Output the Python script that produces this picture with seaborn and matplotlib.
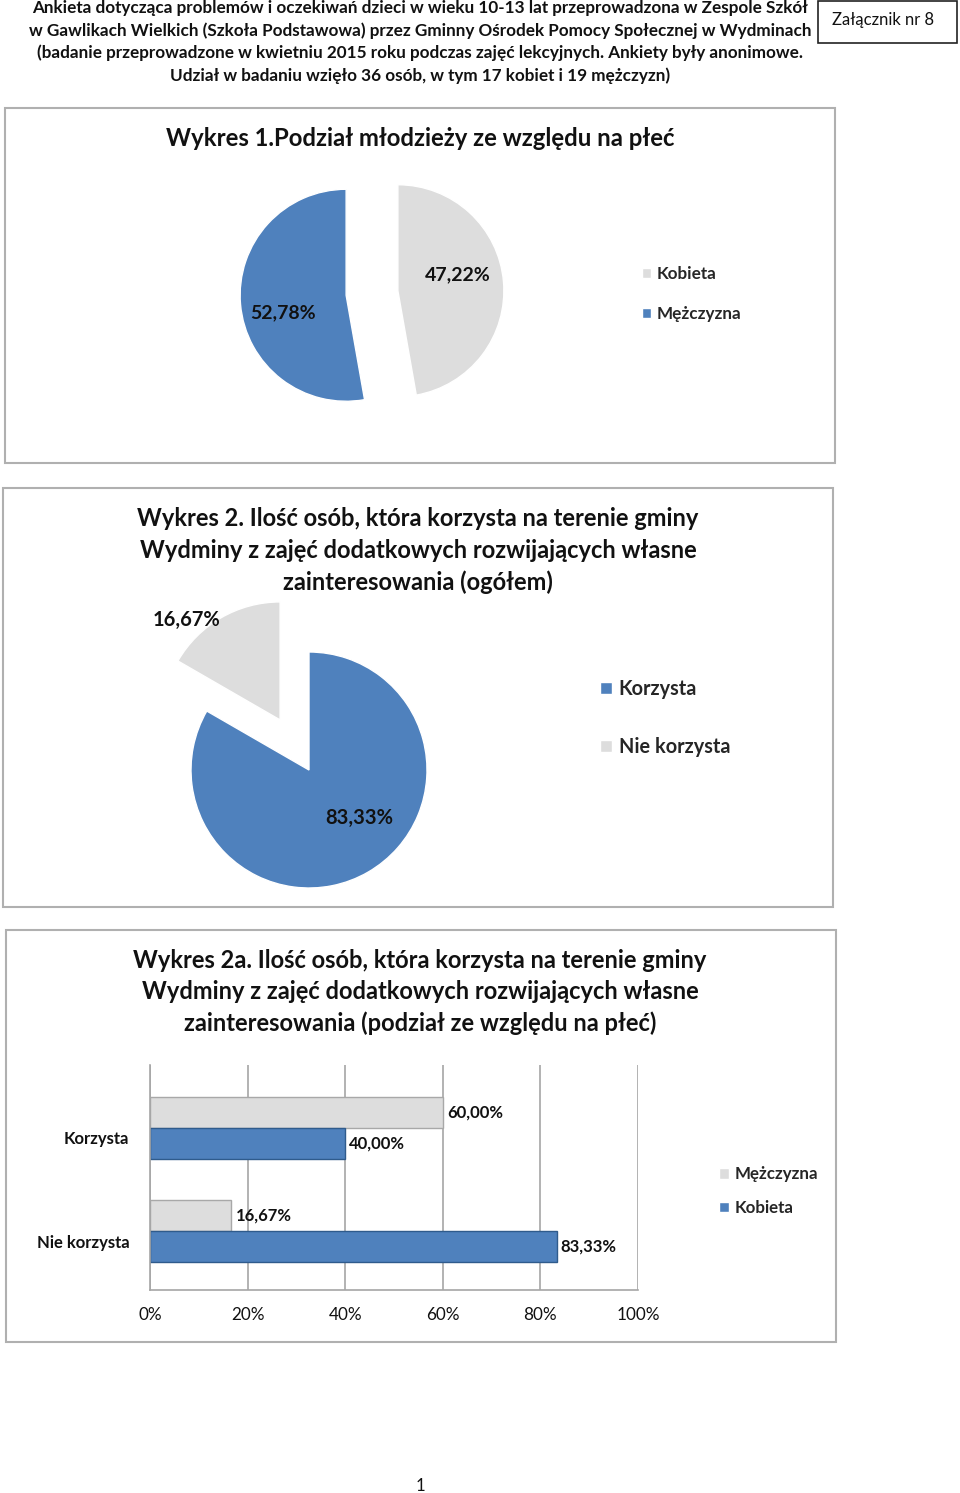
import numpy as np
import pandas as pd
import matplotlib
matplotlib.use("Agg")
import matplotlib.pyplot as plt
from matplotlib.patches import Rectangle, Patch
from matplotlib.transforms import ScaledTranslation
import seaborn as sns

# ---------------- data ----------------
header_lines = [
    "Ankieta dotycząca problemów i oczekiwań dzieci w wieku 10-13 lat przeprowadzona w Zespole Szkół",
    "w Gawlikach Wielkich (Szkoła Podstawowa) przez Gminny Ośrodek Pomocy Społecznej w Wydminach",
    "(badanie przeprowadzone w kwietniu 2015 roku podczas zajęć lekcyjnych. Ankiety były anonimowe.",
    "Udział w badaniu wzięło 36 osób, w tym 17 kobiet i 19 mężczyzn)",
]
annex_label = "Załącznik nr 8"
title1 = "Wykres 1.Podział młodzieży ze względu na płeć"
title2_lines = [
    "Wykres 2. Ilość osób, która korzysta na terenie gminy",
    "Wydminy z zajęć dodatkowych rozwijających własne",
    "zainteresowania (ogółem)",
]
title3_lines = [
    "Wykres 2a. Ilość osób, która korzysta na terenie gminy",
    "Wydminy z zajęć dodatkowych rozwijających własne",
    "zainteresowania (podział ze względu na płeć)",
]
pie1_labels = ["Kobieta", "Mężczyzna"]
pie1_values = [47.22, 52.78]
pie2_labels = ["Korzysta", "Nie korzysta"]
pie2_values = [83.33, 16.67]
bar_categories = ["Korzysta", "Nie korzysta"]
bar_series = ["Mężczyzna", "Kobieta"]
bar_mezczyzna = [60.00, 16.67]
bar_kobieta = [40.00, 83.33]
x_ticks = [0, 20, 40, 60, 80, 100]
page_number = "1"

BLUE = "#4F81BD"
GRAY = "#DDDDDD"
TXT = "#111111"

sns.set_theme(style="white")
plt.rcParams['font.family'] = ['Lato', 'DejaVu Sans']

W, H = 960, 1493
fig = plt.figure(figsize=(9.6, 14.93), dpi=100)
fig.patch.set_facecolor("white")


def fx(x):
    return x / W


def fy(y):
    return 1 - y / H


def add_axes_px(x0, y0, x1, y1):
    return fig.add_axes([fx(x0), fy(y1), (x1 - x0) / W, (y1 - y0) / H])


def pct(v):
    return f"{v:.2f}%".replace(".", ",")


def box(x0, y0, x1, y1, ec="#B0B0B0", lw=1.5):
    fig.add_artist(Rectangle((fx(x0), fy(y1)), (x1 - x0) / W, (y1 - y0) / H,
                             transform=fig.transFigure, fill=False, ec=ec, lw=lw))


# ---------------- header ----------------
for i, line in enumerate(header_lines):
    fig.text(fx(420), fy(8 + i * 22.5), line, ha="center", va="center",
             fontsize=12.3, fontweight="bold", color=TXT)
box(818, 1, 957, 43, ec="#222222", lw=1.2)
fig.text(fx(883), fy(20), annex_label, ha="center", va="center", fontsize=12, color=TXT)

# ---------------- boxes ----------------
box(5, 108, 835, 463)
box(3, 488, 833, 907)
box(6, 930, 836, 1342)

# ---------------- chart 1 ----------------
fig.text(fx(420), fy(138), title1, ha="center", va="center", fontsize=17.2,
         fontweight="bold", color=TXT)
r1 = 106
ax1 = add_axes_px(372 - 1.4 * r1, 293 - 1.4 * r1, 372 + 1.4 * r1, 293 + 1.4 * r1)
w1, t1, a1 = ax1.pie(pie1_values, colors=[GRAY, BLUE], startangle=90, counterclock=False,
                     explode=[0.245, 0.245], autopct=lambda p: pct(p), pctdistance=0.6,
                     textprops=dict(fontweight="bold", fontsize=14, color=TXT))
a1[0].set_position((0.81, 0.17))
a1[1].set_position((-0.84, -0.19))
ax1.set_xlim(-1.4, 1.4)
ax1.set_ylim(-1.4, 1.4)
ax1.set_aspect("equal")
ax1.axis("off")
fig.legend(w1, pie1_labels, loc="center left", bbox_to_anchor=(fx(642), fy(294)),
           bbox_transform=fig.transFigure, frameon=False, handlelength=0.55, handleheight=0.55,
           handletextpad=0.3, labelspacing=1.4, borderpad=0, borderaxespad=0,
           prop=dict(weight="bold", size=12.3))

# ---------------- chart 2 ----------------
for i, line in enumerate(title2_lines):
    fig.text(fx(418), fy(519 + i * 31.5), line, ha="center", va="center", fontsize=17,
             fontweight="bold", color=TXT)
r2 = 118
cx2, cy2 = 309, 770
ax2 = add_axes_px(cx2 - 1.6 * r2, cy2 - 1.6 * r2, cx2 + 1.6 * r2, cy2 + 1.1 * r2)
w2, t2, a2 = ax2.pie(pie2_values, colors=[BLUE, GRAY], startangle=90, counterclock=False,
                     explode=[0, 0.49], autopct=lambda p: pct(p), pctdistance=0.6,
                     textprops=dict(fontweight="bold", fontsize=14.5, color=TXT))
a2[0].set_position((0.43, -0.41))
a2[1].set_position((-1.04, 1.27))
ax2.set_xlim(-1.6, 1.6)
ax2.set_ylim(-1.1, 1.6)
ax2.set_aspect("equal")
ax2.axis("off")
fig.legend(w2, pie2_labels, loc="center left", bbox_to_anchor=(fx(600), fy(718)),
           bbox_transform=fig.transFigure, frameon=False, handlelength=0.6, handleheight=0.6,
           handletextpad=0.35, labelspacing=1.9, borderpad=0, borderaxespad=0,
           prop=dict(weight="bold", size=14.3))

# ---------------- chart 3 ----------------
for i, line in enumerate(title3_lines):
    fig.text(fx(420), fy(960 + i * 31.5), line, ha="center", va="center", fontsize=17,
             fontweight="bold", color=TXT)

df = pd.DataFrame({
    "kategoria": bar_categories * 2,
    "seria": [bar_series[0]] * len(bar_categories) + [bar_series[1]] * len(bar_categories),
    "wartosc": bar_mezczyzna + bar_kobieta,
})
ax3 = add_axes_px(150, 1065, 638, 1290)
sns.barplot(data=df, y="kategoria", x="wartosc", hue="seria", hue_order=bar_series,
            order=bar_categories, palette={bar_series[0]: GRAY, bar_series[1]: BLUE},
            width=0.6, orient="h", ax=ax3, legend=False, saturation=1)
edge_cols = ["#A8A8A8", "#2F5B8C"]
for c, ec in zip(ax3.containers, edge_cols):
    for p in c.patches:
        p.set_edgecolor(ec)
        p.set_linewidth(1.0)
    ax3.bar_label(c, labels=[pct(v) for v in c.datavalues], padding=3,
                  fontweight="bold", fontsize=12, color=TXT)
ax3.set_xlim(0, 100)
ax3.set_ylim(1.57, -0.61)
ax3.set_xticks(x_ticks)
ax3.set_xticklabels([f"{t}%" for t in x_ticks])
ax3.tick_params(axis="x", labelsize=12.3, pad=12, length=0, colors=TXT)
ax3.tick_params(axis="y", labelsize=12, pad=15, length=0, colors=TXT)
for lbl in ax3.get_yticklabels():
    lbl.set_fontweight("bold")
    lbl.set_transform(lbl.get_transform() + ScaledTranslation(0, -0.1, fig.dpi_scale_trans))
ax3.set_xlabel("")
ax3.set_ylabel("")
ax3.grid(axis="x", color="#A6A6A6", lw=1.2)
ax3.set_axisbelow(True)
ax3.set_facecolor("none")
for s in ["top", "right"]:
    ax3.spines[s].set_visible(False)
for s in ["left", "bottom"]:
    ax3.spines[s].set_color("#A6A6A6")
    ax3.spines[s].set_linewidth(1.2)

handles = [Patch(facecolor=GRAY), Patch(facecolor=BLUE)]
fig.legend(handles, bar_series, loc="center left", bbox_to_anchor=(fx(719), fy(1191)),
           bbox_transform=fig.transFigure, frameon=False, handlelength=0.6, handleheight=0.6,
           handletextpad=0.35, labelspacing=1.05, borderpad=0, borderaxespad=0,
           prop=dict(weight="bold", size=12.2))

fig.text(fx(420), fy(1486), page_number, ha="center", va="center", fontsize=12, color=TXT)

fig.savefig("out.png", dpi=100, facecolor="white")
